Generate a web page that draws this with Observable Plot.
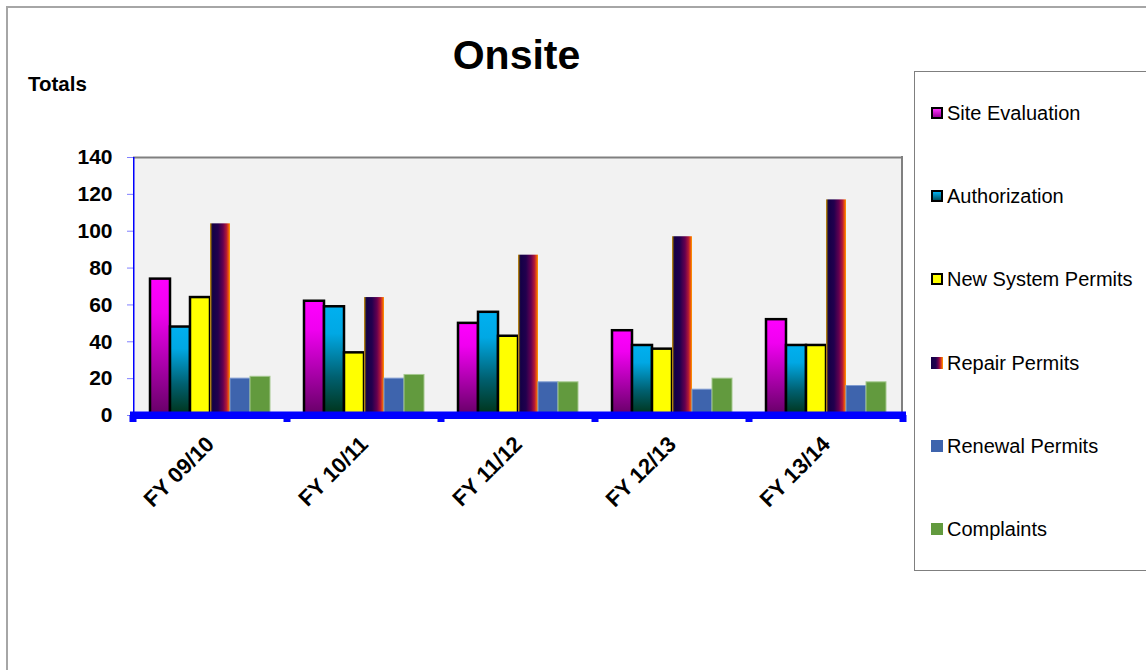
<!DOCTYPE html>
<html>
<head>
<meta charset="utf-8">
<script src="https://cdn.jsdelivr.net/npm/d3@7"></script>
<script src="https://cdn.jsdelivr.net/npm/@observablehq/plot@0.6"></script>
<style>
  html, body { margin: 0; padding: 0; background: #fff; overflow: hidden; }
  #wrap { position: relative; width: 1146px; height: 670px; overflow: hidden; font-family: "Liberation Sans", Arial, sans-serif; }
  #outer { position: absolute; left: 6px; top: 6px; width: 1300px; height: 900px; border-left: 2px solid #a6a6a6; border-top: 2px solid #a6a6a6; }
  #title { position: absolute; left: 0; width: 1033px; top: 35px; text-align: center; font-size: 41px; font-weight: bold; line-height: 41px; color: #000; }
  #ylabel { position: absolute; left: 28px; top: 74px; font-size: 20.5px; font-weight: bold; line-height: 20px; color: #000; }
  #legend { position: absolute; left: 914px; top: 71px; width: 300px; height: 498px; border: 1px solid #7f7f7f; background: #fff; }
  .item { position: absolute; left: 16px; height: 20px; line-height: 20px; font-size: 20px; color: #000; white-space: nowrap; }
  .sw { position: absolute; left: 0; top: 4px; width: 12px; height: 12px; box-sizing: border-box; }
  .lbl { position: absolute; left: 16px; top: 0; }
  #chart { position: absolute; left: 0; top: 0; }
</style>
</head>
<body>
<div id="wrap">
  <div id="outer"></div>
  <div id="chart"></div>
  <div id="title">Onsite</div>
  <div id="ylabel">Totals</div>
  <div id="legend"></div>
</div>
<script>
// ---- data ----
const categories = ["FY 09/10", "FY 10/11", "FY 11/12", "FY 12/13", "FY 13/14"];
const series = ["Site Evaluation", "Authorization", "New System Permits", "Repair Permits", "Renewal Permits", "Complaints"];
const siteEvaluation   = [74, 62, 50, 46, 52];
const authorization    = [48, 59, 56, 38, 38];
const newSystemPermits = [64, 34, 43, 36, 38];
const repairPermits    = [104, 64, 87, 97, 117];
const renewalPermits   = [20, 20, 18, 14, 16];
const complaints       = [21, 22, 18, 20, 18];
const yTicks = [0, 20, 40, 60, 80, 100, 120, 140];

const valuesBySeries = [siteEvaluation, authorization, newSystemPermits, repairPermits, renewalPermits, complaints];
const rows = [];
series.forEach((s, si) => categories.forEach((c, ci) => rows.push({category: c, series: s, value: valuesBySeries[si][ci]})));

// ---- styles per series ----
const styles = {
  "Site Evaluation":    {fill: "url(#gSite)", stroke: "#000", strokeWidth: 2.5},
  "Authorization":      {fill: "url(#gAuth)", stroke: "#000", strokeWidth: 2.5},
  "New System Permits": {fill: "#FFFF00", stroke: "#000", strokeWidth: 2.5},
  "Repair Permits":     {fill: "url(#gRepair)", stroke: "none", strokeWidth: 0},
  "Renewal Permits":    {fill: "#3E64AD", stroke: "#7f9bd0", strokeWidth: 1},
  "Complaints":         {fill: "#629A3E", stroke: "#a4c88e", strokeWidth: 1}
};

const W = 1146, H = 670;
const chart = Plot.plot({
  width: W,
  height: H,
  marginLeft: 131,
  marginRight: 242,
  marginTop: 157,
  marginBottom: 255,
  style: {fontFamily: "'Liberation Sans', Arial, sans-serif", fontSize: "20px", background: "transparent", overflow: "visible", color: "#000"},
  fx: {domain: categories, padding: 0, axis: null, label: null},
  x: {domain: series, paddingInner: 0, paddingOuter: 0.75, axis: null, label: null},
  y: {domain: [0, 140], axis: null, label: null},
  marks: [
    Plot.ruleY([140], {stroke: "#808080", strokeWidth: 2}),
    ...series.map(s => Plot.barY(rows.filter(d => d.series === s), {
      fx: "category", x: "series", y: "value",
      fill: styles[s].fill, stroke: styles[s].stroke, strokeWidth: styles[s].strokeWidth
    })),
    Plot.ruleY([0], {stroke: "#0000FF", strokeWidth: 7}),
    Plot.axisY({ticks: yTicks, tickSize: 6, tickPadding: 15, stroke: "#8080FF", fill: "#000", fontWeight: "bold", fontSize: 21, tickFormat: d => String(d)}),
    Plot.axisFx({anchor: "bottom", tickSize: 0, tickPadding: 30, tickRotate: -45, textAnchor: "end", lineAnchor: "bottom", dx: 5, fontWeight: "bold", fontSize: 22, fill: "#000", label: null})
  ]
});

document.getElementById("chart").appendChild(chart);

// gradients
const svg = d3.select(chart);
const defs = svg.insert("defs", ":first-child");
function lin(id, x2, y2, stops) {
  const g = defs.append("linearGradient").attr("id", id).attr("x1", 0).attr("y1", 0).attr("x2", x2).attr("y2", y2);
  stops.forEach(([o, c]) => g.append("stop").attr("offset", o).attr("stop-color", c));
}
lin("gSite", 0, 1, [[0, "#FF00FF"], [0.25, "#F000F0"], [1, "#660066"]]);
lin("gAuth", 0, 1, [[0, "#00B0F0"], [0.25, "#00A8E4"], [0.65, "#006070"], [1, "#003318"]]);
lin("gRepair", 1, 0, [[0, "#E0A010"], [0.07, "#5a4020"], [0.13, "#140046"], [0.4, "#22004E"], [0.65, "#650050"], [0.82, "#B01838"], [0.92, "#E85010"], [1, "#FFA000"]]);

// plot-area background and axis decorations derived from Plot scales
const fx = chart.scale("fx");
const y = chart.scale("y");
const x0 = fx.apply(categories[0]);
const x1 = fx.apply(categories[categories.length - 1]) + fx.bandwidth;
const y0 = y.apply(0), yTop = y.apply(140);
svg.insert("rect", "defs + *").attr("x", x0).attr("y", yTop).attr("width", x1 - x0).attr("height", y0 - yTop).attr("fill", "#F2F2F2");
const deco = svg.append("g");
deco.append("line").attr("x1", x1 - 1).attr("x2", x1 - 1).attr("y1", yTop - 1).attr("y2", y0).attr("stroke", "#808080").attr("stroke-width", 2);
deco.append("line").attr("x1", x0 + 0.75).attr("x2", x0 + 0.75).attr("y1", yTop).attr("y2", y0).attr("stroke", "#0000FF").attr("stroke-width", 1.5);
const bounds = categories.map(c => fx.apply(c)).concat([x1]);
deco.selectAll("rect.tk").data(bounds).join("rect")
  .attr("x", d => d - 3.5).attr("y", y0).attr("width", 7).attr("height", 7).attr("fill", "#0000FF");
deco.append("rect").attr("x", x0 - 3).attr("y", y0 - 3.5).attr("width", x1 - x0 + 6).attr("height", 7).attr("fill", "#0000FF");

// legend
const swatchStyle = {
  "Site Evaluation":    "border:2px solid #000;background:linear-gradient(#ff33ff,#990099);",
  "Authorization":      "border:2px solid #000;background:linear-gradient(#00b0f0,#005060);",
  "New System Permits": "border:2px solid #000;background:#FFFF00;",
  "Repair Permits":     "background:linear-gradient(to right,#140046 0%,#22004E 40%,#650050 60%,#B01838 75%,#E85010 88%,#FFA000 100%);",
  "Renewal Permits":    "background:#3E64AD;",
  "Complaints":         "background:#629A3E;"
};
const legend = document.getElementById("legend");
series.forEach((s, i) => {
  const it = document.createElement("div");
  it.className = "item";
  it.style.top = (31 + i * 83.2) + "px";
  it.innerHTML = `<span class="sw" style="${swatchStyle[s]}"></span><span class="lbl">${s}</span>`;
  legend.appendChild(it);
});
</script>
</body>
</html>
